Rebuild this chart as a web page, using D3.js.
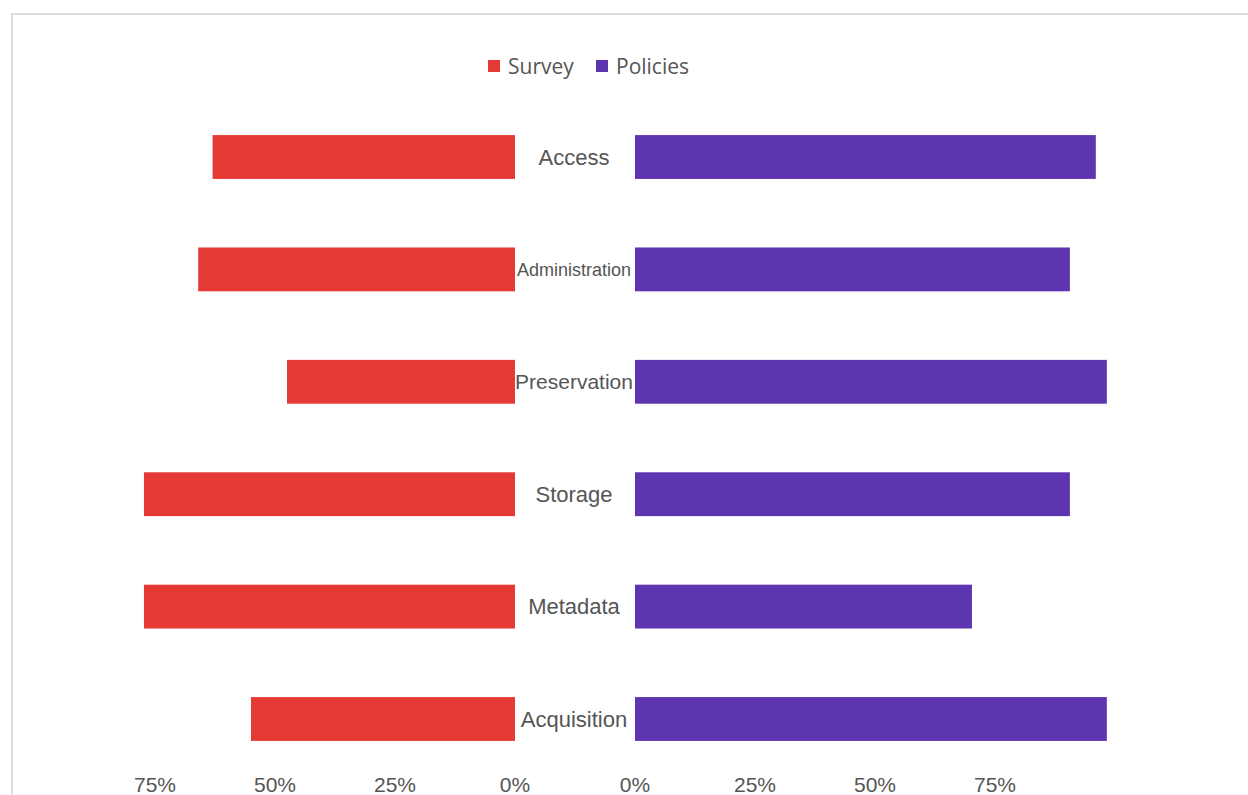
<!DOCTYPE html>
<html>
<head>
<meta charset="utf-8">
<script src="https://cdn.jsdelivr.net/npm/d3@7"></script>
<style>
  body { margin: 0; background: #fff; }
  svg { display: block; }
</style>
</head>
<body>
<div id="vis"></div>
<script>
'use strict';

// Chart data
const categories = ["Access", "Administration", "Preservation", "Storage", "Metadata", "Acquisition"];
const surveyValues = [63, 66, 47.5, 77.3, 77.3, 55];
const policyValues = [96, 90.6, 98.3, 90.6, 70.2, 98.3];
const tickValues = [0, 25, 50, 75];
const seriesNames = ["Survey", "Policies"];

const colors = {
    "Survey": "#E53935",
    "Policies": "#5E35B1"
};

const constraints = {
    width: 1248,
    height: 795,
    leftZero: 515,
    rightZero: 635,
    pxPerUnit: 4.8,
    top: 100.8,
    bottom: 775.2
};

const svg = d3.select("#vis").append("svg")
    .attr("width", constraints.width)
    .attr("height", constraints.height);

// Light frame around the chart area
svg.append("rect")
    .attr("x", 12)
    .attr("y", 14)
    .attr("width", 1260)
    .attr("height", 820)
    .attr("fill", "none")
    .attr("stroke", "#ddd")
    .attr("stroke-width", 2);

const xLeft = d3.scaleLinear()
    .domain([0, 100])
    .range([constraints.leftZero, constraints.leftZero - 100 * constraints.pxPerUnit]);
const xRight = d3.scaleLinear()
    .domain([0, 100])
    .range([constraints.rightZero, constraints.rightZero + 100 * constraints.pxPerUnit]);
const y = d3.scaleBand()
    .domain(categories)
    .range([constraints.top, constraints.bottom])
    .paddingInner(0.61)
    .paddingOuter(0.305);

// Bars
svg.append("g").selectAll("rect")
    .data(categories)
    .enter()
    .append("rect")
        .attr("x", (d, i) => xLeft(surveyValues[i]))
        .attr("y", d => y(d))
        .attr("width", (d, i) => xLeft(0) - xLeft(surveyValues[i]))
        .attr("height", y.bandwidth())
        .attr("fill", colors["Survey"]);

svg.append("g").selectAll("rect")
    .data(categories)
    .enter()
    .append("rect")
        .attr("x", xRight(0))
        .attr("y", d => y(d))
        .attr("width", (d, i) => xRight(policyValues[i]) - xRight(0))
        .attr("height", y.bandwidth())
        .attr("fill", colors["Policies"]);

// Category labels, shrunk to fit between the two bar groups
const labelWidth = constraints.rightZero - constraints.leftZero;
svg.append("g").selectAll("text")
    .data(categories)
    .enter()
    .append("text")
        .attr("x", (constraints.leftZero + constraints.rightZero) / 2 - 1)
        .attr("y", d => y(d) + y.bandwidth() / 2)
        .attr("dy", "0.35em")
        .attr("text-anchor", "middle")
        .style("font-family", "'Liberation Sans', Arial, sans-serif")
        .style("font-size", "22px")
        .style("fill", "#555")
        .text(d => d)
        .each(function() {
            let size = 22;
            while (this.getComputedTextLength() > labelWidth && size > 8) {
                size -= 1;
                d3.select(this).style("font-size", size + "px");
            }
        });

// Bottom tick labels for both sides
function drawTicks(scale) {
    svg.append("g").selectAll("text")
        .data(tickValues)
        .enter()
        .append("text")
            .attr("x", d => scale(d))
            .attr("y", 792)
            .attr("text-anchor", "middle")
            .style("font-family", "'Liberation Sans', Arial, sans-serif")
            .style("font-size", "21px")
            .style("fill", "#555")
            .text(d => d + "%");
}
drawTicks(xLeft);
drawTicks(xRight);

// Legend
const legendX = [488, 596];
const legend = svg.append("g").selectAll("g")
    .data(seriesNames)
    .enter()
    .append("g")
        .attr("transform", (d, i) => "translate(" + legendX[i] + ", 60)");
legend.append("rect")
    .attr("width", 12)
    .attr("height", 12)
    .attr("fill", d => colors[d]);
legend.append("text")
    .attr("x", 20)
    .attr("y", 14)
    .style("font-family", "'Open Sans', sans-serif")
    .style("font-size", "21px")
    .style("fill", "#555")
    .text(d => d);
</script>
</body>
</html>
